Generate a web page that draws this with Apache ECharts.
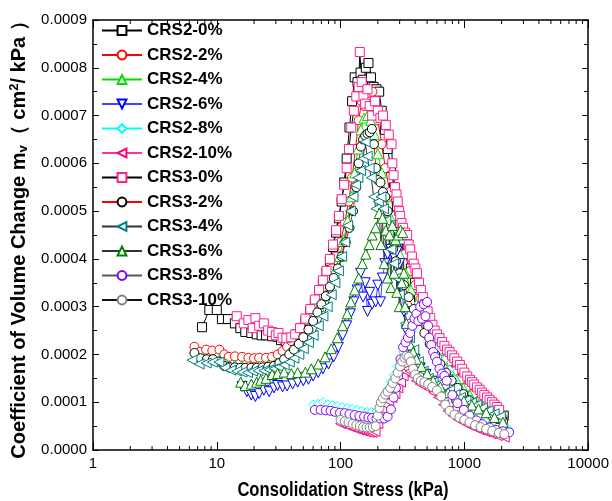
<!DOCTYPE html>
<html>
<head>
<meta charset="utf-8">
<script src="https://cdn.jsdelivr.net/npm/echarts@6/dist/echarts.min.js"></script>
<style>
  html, body { margin: 0; padding: 0; background: #fff; }
  #chart { width: 612px; height: 501px; }
</style>
</head>
<body>
<div id="chart"></div>
<script>
// values are mv in units of 1e-4 cm2/kPa, x is consolidation stress in kPa
const crs2_0 = [[7.6,2.57],[8.7,2.93],[10,2.93],[11,2.74],[12.3,2.74],[14,2.65],[15.5,2.55],[17,2.47],[19,2.45],[21,2.42],[23,2.4],[25,2.4],[28,2.38],[31,2.37],[33,2.3],[36,2.28],[40,2.32],[44,2.42],[48,2.55],[52,2.7],[57,2.9],[62,3.1],[67,3.3],[72,3.5],[77,3.72],[82,3.96],[87,4.25],[92,4.55],[97,4.85],[102,5.2],[107,5.6],[112,6.1],[118,6.75],[124,7.3],[130,7.8],[137,7.7],[145,7.9],[152,7.75],[160,8.0],[168,8.1],[176,7.8],[185,7.6],[195,7.55],[205,7.5],[215,7.1],[228,6.7],[240,6.3],[255,5.9],[270,5.5],[285,5.1],[300,4.75],[320,4.4],[345,4.1],[370,3.8],[400,3.5],[430,3.2],[465,2.92],[505,2.65],[550,2.4],[600,2.18],[660,1.98],[720,1.8],[790,1.64],[870,1.49],[960,1.35],[1060,1.23],[1170,1.12],[1290,1.02],[1420,0.93],[1570,0.86],[1730,0.8],[1900,0.76],[2080,0.72]];
const crs2_2 = [[6.6,2.16],[7.3,2.05],[8.2,2.1],[9.2,2.08],[10.5,2.1],[11.5,2.0],[12.5,1.95],[14,1.96],[16,1.95],[18,1.93],[20,1.92],[22,1.93],[25,1.93],[28,1.95],[31,2.0],[34,2.07],[37,2.16],[40,2.28],[43,2.42],[47,2.56],[52,2.72],[57,2.9],[62,3.05],[67,3.22],[72,3.4],[78,3.58],[85,3.8],[92,4.05],[100,4.35],[108,4.75],[116,5.2],[124,5.7],[132,6.3],[140,6.9],[148,7.3],[156,7.2],[165,7.45],[175,7.3],[181,7.5],[190,7.2],[200,6.9],[215,6.4],[230,5.9],[250,5.4],[275,4.9],[300,4.5],[330,4.1],[365,3.75],[400,3.45],[440,3.15],[490,2.82],[540,2.55],[600,2.3],[670,2.07],[750,1.85],[840,1.65],[940,1.48],[1050,1.32],[1180,1.17],[1320,1.04],[1480,0.93],[1650,0.83],[1850,0.74],[2050,0.66]];
const crs2_4 = [[6.8,1.98],[7.8,1.92],[9,1.9],[10.5,1.88],[12,1.8],[14,1.78],[16,1.76],[19,1.75],[22,1.76],[26,1.78],[30,1.82],[34,1.9],[38,2.02],[43,2.18],[48,2.35],[54,2.55],[60,2.78],[67,3.0],[74,3.22],[82,3.48],[90,3.75],[98,4.05],[106,4.4],[114,4.8],[122,5.3],[130,5.8],[138,6.3],[146,6.7],[155,6.95],[165,7.0],[175,6.9],[188,6.6],[200,6.2],[215,5.8],[232,5.3],[250,4.9],[275,4.45],[300,4.1],[335,3.7],[370,3.35],[410,3.05],[460,2.72],[520,2.42],[590,2.15],[670,1.9],[760,1.68],[860,1.48],[980,1.3],[1110,1.15],[1260,1.02],[1430,0.9],[1620,0.8],[1840,0.71],[2050,0.63]];
const crs2_6 = [[16,1.33],[17.5,1.22],[19,1.15],[20.5,1.12],[22,1.18],[24,1.25],[26.5,1.22],[29,1.3],[31,1.35],[34,1.32],[37,1.34],[41,1.38],[45,1.42],[50,1.45],[55,1.48],[60,1.55],[66,1.62],[72,1.7],[80,1.8],[88,1.95],[96,2.15],[104,2.4],[112,2.6],[120,2.85],[128,3.1],[136,3.35],[145,3.7],[152,3.2],[158,3.5],[165,2.9],[172,3.3],[180,3.05],[192,3.1],[200,3.45],[210,3.1],[218,3.6],[228,3.9],[240,4.1],[255,4.2],[270,4.05],[285,4.15],[300,3.9],[312,3.4],[325,2.9],[340,2.5],[355,2.25],[375,2.05],[400,1.9],[440,1.72],[490,1.58],[550,1.44],[620,1.3],[710,1.18],[820,1.06],[950,0.97],[1100,0.88],[1280,0.8],[1500,0.72],[1750,0.64],[2000,0.58]];
const crs2_8 = [[60,0.95],[66,0.97],[72,1.0],[79,0.96],[86,0.94],[94,0.92],[103,0.9],[113,0.88],[124,0.86],[136,0.84],[149,0.82],[163,0.8],[178,0.8],[195,0.82],[210,0.95],[225,1.12],[240,1.27],[255,1.42],[270,1.57],[288,1.75],[305,1.9],[322,2.05],[340,2.2],[358,2.35],[375,2.5],[392,2.6],[410,2.72],[430,2.85],[450,2.95],[470,3.05],[490,3.1],[515,2.9],[540,2.7],[570,2.5],[605,2.3],[650,2.1],[700,1.9],[760,1.68],[830,1.48],[910,1.3],[1000,1.12],[1100,0.98],[1220,0.85],[1350,0.74],[1500,0.64],[1680,0.56],[1880,0.5],[2100,0.46],[2300,0.42]];
const crs2_10 = [[100,0.55],[110,0.52],[120,0.48],[130,0.45],[140,0.42],[150,0.4],[160,0.38],[170,0.37],[180,0.37],[190,0.39],[200,0.55],[210,0.72],[220,0.85],[232,0.95],[245,1.02],[260,1.1],[275,1.18],[290,1.3],[305,1.42],[320,1.55],[335,1.65],[350,1.7],[365,1.65],[385,1.55],[410,1.45],[440,1.38],[480,1.33],[520,1.28],[570,1.2],[620,1.1],[680,0.95],[740,0.82],[810,0.72],[890,0.64],[980,0.58],[1080,0.52],[1200,0.47],[1330,0.42],[1480,0.38],[1650,0.34],[1850,0.3],[2100,0.27]];
const crs3_0 = [[14.5,2.8],[16.5,2.65],[18,2.72],[19.5,2.55],[20.5,2.76],[22,2.6],[24,2.65],[26,2.5],[28,2.47],[30,2.4],[31.5,2.45],[34,2.35],[36.5,2.34],[40,2.36],[43,2.42],[47,2.55],[52,2.75],[57,2.95],[62,3.15],[67,3.35],[72,3.55],[77,3.75],[82,4.0],[87,4.3],[92,4.6],[97,4.9],[102,5.25],[107,5.55],[112,5.9],[117,6.3],[122,6.75],[128,7.1],[134,7.4],[140,7.6],[143,8.33],[148,7.7],[153,7.4],[158,7.25],[165,7.55],[172,7.2],[180,7.0],[190,7.3],[200,7.1],[210,6.95],[220,7.0],[232,6.8],[245,6.6],[258,6.4],[262,6.0],[268,5.75],[275,5.5],[283,5.35],[290,5.2],[297,5.0],[303,4.9],[311,4.75],[320,4.65],[332,4.55],[345,4.5],[355,4.3],[365,4.2],[377,4.05],[390,3.9],[402,3.8],[415,3.7],[430,3.5],[445,3.35],[462,3.2],[480,3.05],[505,2.9],[530,2.76],[552,2.62],[575,2.5],[602,2.42],[630,2.34],[660,2.26],[690,2.18],[725,2.1],[760,2.05],[795,1.98],[830,1.92],[875,1.85],[920,1.78],[960,1.7],[1000,1.62],[1055,1.54],[1110,1.47],[1155,1.42],[1200,1.37],[1265,1.31],[1330,1.26],[1390,1.2],[1450,1.15],[1525,1.1],[1600,1.05],[1675,1.0],[1750,0.95],[1830,0.9],[1910,0.84]];
const crs3_2 = [[6.6,2.03],[7.4,1.92],[8.3,1.9],[9.3,1.9],[10.4,1.85],[11.5,1.76],[12.6,1.74],[14,1.73],[15.5,1.72],[17,1.72],[19,1.72],[21,1.72],[23.5,1.73],[26,1.74],[29,1.76],[32,1.82],[35,1.9],[38.5,2.0],[42,2.1],[46,2.22],[50,2.36],[55,2.52],[60,2.7],[65,2.88],[70,3.05],[76,3.22],[82,3.42],[88,3.6],[95,3.8],[102,4.05],[110,4.35],[118,4.65],[126,5.0],[134,5.5],[140,6.0],[146,6.35],[152,6.5],[158,6.58],[165,6.62],[172,6.65],[179,6.72],[186,6.4],[193,5.9],[200,5.65],[210,5.6],[220,5.4],[230,5.3],[240,5.0],[252,4.5],[265,4.2],[280,3.95],[300,3.7],[325,3.45],[355,3.2],[390,2.95],[430,2.7],[475,2.45],[525,2.22],[580,2.0],[640,1.8],[710,1.62],[790,1.45],[880,1.3],[980,1.17],[1090,1.05],[1210,0.95],[1350,0.86],[1500,0.78],[1670,0.71],[1860,0.65],[2050,0.6]];
const crs3_4 = [[6.3,1.88],[7.2,1.8],[8.2,1.82],[9.2,1.84],[10.4,1.84],[11.6,1.72],[13,1.67],[14.5,1.65],[16,1.63],[17.7,1.62],[19.5,1.65],[21.5,1.66],[24,1.66],[26.5,1.68],[29,1.7],[32,1.74],[35,1.78],[38.5,1.84],[42,1.92],[46,2.0],[50,2.12],[55,2.25],[60,2.4],[66,2.6],[72,2.8],[78,3.0],[84,3.25],[90,3.5],[96,3.75],[102,4.05],[108,4.35],[114,4.7],[120,5.0],[126,5.3],[132,5.55],[138,5.7],[145,5.85],[152,6.1],[158,6.45],[164,6.15],[170,5.9],[177,5.7],[185,5.3],[193,5.05],[202,5.2],[212,5.3],[222,5.05],[232,4.8],[243,4.5],[255,4.2],[268,3.9],[282,3.6],[298,3.25],[315,2.95],[335,2.65],[360,2.35],[390,2.1],[425,1.85],[465,1.65],[510,1.5],[560,1.42],[620,1.38],[690,1.33],[760,1.25],[840,1.16],[930,1.1],[1030,1.04],[1140,0.99],[1260,0.94],[1400,0.88],[1560,0.82],[1740,0.76],[1950,0.7]];
const crs3_6 = [[15.6,1.42],[17,1.35],[19,1.38],[21,1.42],[22.6,1.46],[25,1.5],[28,1.58],[31,1.6],[35,1.63],[40,1.6],[45,1.62],[52,1.63],[58,1.7],[66,1.8],[75,1.95],[84,2.12],[94,2.35],[104,2.6],[113,2.85],[121,3.1],[130,3.35],[140,3.6],[150,3.9],[160,4.1],[170,4.3],[180,4.5],[192,4.65],[205,4.95],[212,4.3],[218,4.85],[225,3.9],[232,4.6],[240,3.6],[248,4.5],[255,3.4],[262,4.7],[270,3.7],[278,4.4],[285,3.3],[292,4.5],[298,3.0],[305,4.6],[312,3.5],[318,4.55],[325,3.7],[332,3.0],[340,2.65],[350,2.4],[365,2.2],[385,2.05],[410,1.9],[450,1.75],[500,1.6],[560,1.45],[640,1.32],[740,1.2],[860,1.1],[990,1.03],[1150,0.94],[1300,0.86],[1500,0.78],[1750,0.68],[2050,0.58]];
const crs3_8 = [[62,0.84],[69,0.84],[76,0.83],[83,0.82],[90,0.8],[99,0.78],[108,0.77],[118,0.75],[130,0.73],[142,0.71],[155,0.7],[168,0.68],[180,0.67],[195,0.66],[210,0.66],[225,0.66],[240,0.7],[255,0.85],[268,1.1],[280,1.3],[292,1.55],[305,1.9],[320,2.15],[335,2.25],[350,2.35],[365,2.45],[380,2.6],[395,2.75],[410,2.85],[425,2.7],[440,3.0],[455,2.75],[470,3.05],[485,2.8],[500,3.1],[510,2.6],[520,2.35],[540,2.2],[560,2.05],[580,1.95],[600,1.85],[630,1.7],[660,1.6],[690,1.55],[720,1.45],[800,1.15],[880,0.98],[990,0.84],[1100,0.72],[1250,0.62],[1400,0.54],[1600,0.47],[1800,0.42],[2050,0.39],[2300,0.37]];
const crs3_10 = [[100,0.63],[108,0.6],[116,0.58],[125,0.55],[134,0.52],[143,0.5],[152,0.48],[162,0.47],[172,0.47],[182,0.48],[192,0.5],[200,0.72],[206,0.88],[212,1.0],[220,1.08],[230,1.16],[240,1.22],[252,1.3],[264,1.4],[277,1.5],[290,1.62],[303,1.75],[315,1.85],[328,1.93],[340,1.97],[355,1.95],[370,1.85],[385,1.7],[400,1.58],[420,1.5],[445,1.45],[475,1.42],[510,1.38],[550,1.32],[600,1.25],[650,1.12],[700,0.95],[760,0.82],[830,0.74],[910,0.68],[1000,0.63],[1100,0.58],[1220,0.52],[1350,0.48],[1500,0.44],[1680,0.4],[1900,0.36],[2100,0.33]];

const xTickLabels = [1, 10, 100, 1000, 10000];
const xMinorTicks = [];
[1, 10, 100, 1000].forEach(d => [2, 3, 4, 5, 6, 7, 8, 9].forEach(m => xMinorTicks.push(d * m)));

const chart = echarts.init(document.getElementById('chart'));

const sans = "'Liberation Sans', Arial, sans-serif";

// name, data, symbol, rotate, symbol colour, line colour
const seriesDefs = [
  ['CRS2-0%', crs2_0, 'rect', 0, '#000000', '#000000'],
  ['CRS2-2%', crs2_2, 'circle', 0, '#ff0000', '#ff0000'],
  ['CRS2-4%', crs2_4, 'triangle', 0, '#00dd00', '#00dd00'],
  ['CRS2-6%', crs2_6, 'triangle', 180, '#0000ff', '#4444ff'],
  ['CRS2-8%', crs2_8, 'diamond', 0, '#00ffff', '#00ffff'],
  ['CRS2-10%', crs2_10, 'triangle', 90, '#ff0080', '#ff3399'],
  ['CRS3-0%', crs3_0, 'rect', 0, '#ff1f8f', '#000000'],
  ['CRS3-2%', crs3_2, 'circle', 0, '#000000', '#ff0000'],
  ['CRS3-4%', crs3_4, 'triangle', 90, '#008080', '#333333'],
  ['CRS3-6%', crs3_6, 'triangle', 0, '#008000', '#333333'],
  ['CRS3-8%', crs3_8, 'circle', 0, '#8000ff', '#555555'],
  ['CRS3-10%', crs3_10, 'circle', 0, '#808080', '#111111']
];

const series = seriesDefs.map(([name, data, symbol, rot, sc, lc]) => ({
  name: name,
  type: 'line',
  data: data.map(p => [p[0], p[1]]),
  symbol: symbol,
  symbolRotate: rot,
  symbolSize: symbol === 'triangle' ? 10 : 9,
  showAllSymbol: true,
  itemStyle: { color: '#ffffff', borderColor: sc, borderWidth: 1 },
  lineStyle: { color: lc, width: 1 },
  emphasis: { disabled: true },
  silent: true
}));

// minor ticks of the log axis (bottom and top)
series.push({
  type: 'custom',
  silent: true,
  data: xMinorTicks.map(v => [v, 0]),
  encode: { x: 0, y: 1 },
  clip: false,
  renderItem: (params, api) => {
    const b = api.coord([api.value(0), 0]);
    const t = api.coord([api.value(0), 9]);
    return {
      type: 'group',
      children: [
        { type: 'line', shape: { x1: b[0], y1: b[1], x2: b[0], y2: b[1] - 4 }, style: { stroke: '#000', lineWidth: 1 } },
        { type: 'line', shape: { x1: t[0], y1: t[1], x2: t[0], y2: t[1] + 4 }, style: { stroke: '#000', lineWidth: 1 } }
      ]
    };
  }
});

const option = {
  animation: false,
  backgroundColor: '#ffffff',
  grid: { left: 93, right: 19, top: 20, bottom: 51 },
  // x axis title, condensed bold like the original
  graphic: [{
    type: 'text',
    x: 343,
    y: 490,
    scaleX: 0.83,
    silent: true,
    style: {
      text: 'Consolidation Stress (kPa)',
      font: "bold 20px 'Liberation Sans', Arial, sans-serif",
      fill: '#000',
      textAlign: 'center',
      textVerticalAlign: 'middle'
    }
  }],
  legend: {
    data: seriesDefs.map(d => d[0]),
    orient: 'vertical',
    left: 101,
    top: 22,
    padding: 0,
    itemWidth: 40,
    itemHeight: 11,
    itemGap: 7.5,
    selectedMode: false,
    textStyle: {
      fontFamily: sans,
      fontWeight: 'bold',
      fontSize: 17,
      lineHeight: 17,
      color: '#000'
    }
  },
  xAxis: [{
    type: 'log',
    logBase: 10,
    min: 1,
    max: 10000,
    axisLine: { onZero: false, lineStyle: { color: '#000', width: 1.5 } },
    axisTick: { inside: true, length: 8, lineStyle: { color: '#000' } },
    axisLabel: {
      margin: 6,
      fontFamily: sans,
      fontSize: 15,
      color: '#000',
      formatter: v => xTickLabels.indexOf(Math.round(v)) >= 0 ? String(Math.round(v)) : ''
    },
    splitLine: { show: false }
  }, {
    type: 'log',
    logBase: 10,
    min: 1,
    max: 10000,
    position: 'top',
    axisLine: { onZero: false, lineStyle: { color: '#000', width: 1.5 } },
    axisTick: { inside: true, length: 8, lineStyle: { color: '#000' } },
    axisLabel: { show: false },
    splitLine: { show: false }
  }],
  yAxis: [{
    type: 'value',
    min: 0,
    max: 9,
    interval: 1,
    name: 'Coefficient of Volume Change m{sub|v}（ cm{sup|2}/ kPa ）',
    nameLocation: 'middle',
    nameGap: 42,
    nameTextStyle: {
      fontFamily: sans, fontWeight: 'bold', fontSize: 20, color: '#000',
      rich: {
        sub: { fontFamily: sans, fontWeight: 'bold', fontSize: 13, padding: [9, 0, 0, 0], color: '#000' },
        sup: { fontFamily: sans, fontWeight: 'bold', fontSize: 13, padding: [0, 0, 9, 0], color: '#000' }
      }
    },
    axisLine: { show: true, onZero: false, lineStyle: { color: '#000', width: 1.5 } },
    axisTick: { inside: true, length: 6, lineStyle: { color: '#000' } },
    minorTick: { show: true, splitNumber: 2, length: 4, lineStyle: { color: '#000' } },
    axisLabel: {
      margin: 6,
      fontFamily: sans,
      fontSize: 15,
      color: '#000',
      formatter: v => (v / 10000).toFixed(4)
    },
    splitLine: { show: false }
  }, {
    type: 'value',
    min: 0,
    max: 9,
    interval: 1,
    position: 'right',
    axisLine: { show: true, onZero: false, lineStyle: { color: '#000', width: 1.5 } },
    axisTick: { inside: true, length: 6, lineStyle: { color: '#000' } },
    minorTick: { show: true, splitNumber: 2, length: 4, lineStyle: { color: '#000' } },
    axisLabel: { show: false },
    splitLine: { show: false }
  }],
  series: series
};

chart.setOption(option);
</script>
</body>
</html>
